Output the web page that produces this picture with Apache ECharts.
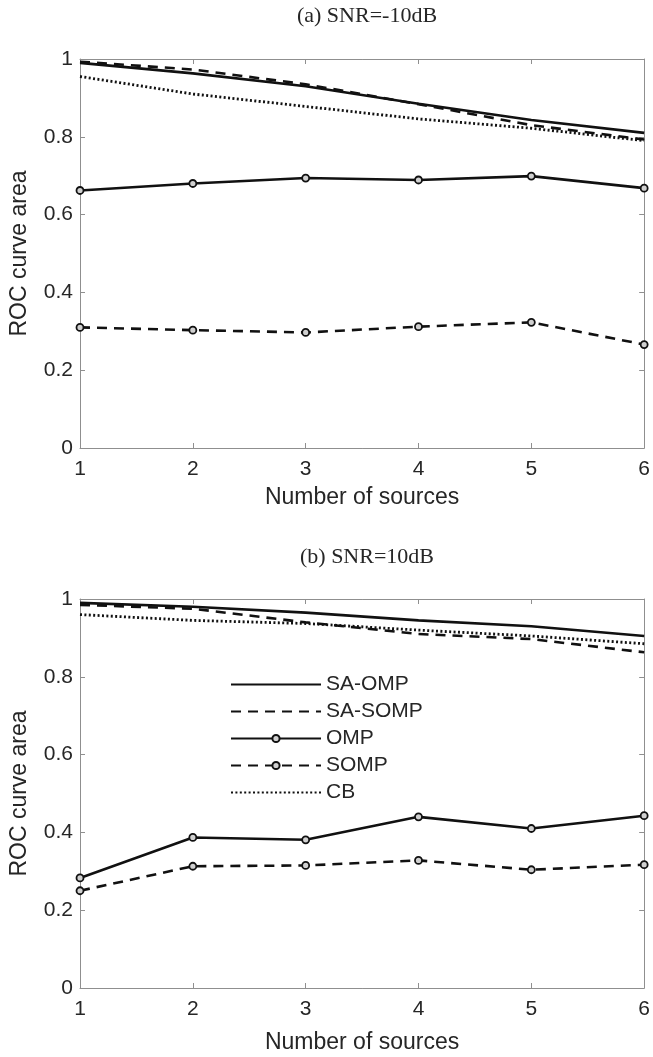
<!DOCTYPE html>
<html>
<head>
<meta charset="utf-8">
<script src="https://cdn.jsdelivr.net/npm/echarts@6/dist/echarts.min.js"></script>
<style>
html,body{margin:0;padding:0;background:#fff;}
#c{width:653px;height:1057px;}
</style>
</head>
<body>
<div id="c"></div>
<script>
// ---- data ----
const sources = [1, 2, 3, 4, 5, 6];
const seriesNames = ['SA-OMP', 'SA-SOMP', 'OMP', 'SOMP', 'CB'];
const titles = ['(a) SNR=-10dB', '(b) SNR=10dB'];
const xTitle = 'Number of sources';
const yTitle = 'ROC curve area';

// (a) SNR = -10 dB
const a_SAOMP  = [0.990, 0.963, 0.930, 0.885, 0.843, 0.810];
const a_SASOMP = [0.993, 0.973, 0.935, 0.884, 0.830, 0.793];
const a_OMP    = [0.662, 0.680, 0.694, 0.689, 0.699, 0.668];
const a_SOMP   = [0.310, 0.303, 0.297, 0.312, 0.323, 0.266];
const a_CB     = [0.955, 0.910, 0.878, 0.846, 0.822, 0.790];

// (b) SNR = 10 dB
const b_SAOMP  = [0.990, 0.980, 0.965, 0.945, 0.930, 0.905];
const b_SASOMP = [0.985, 0.975, 0.940, 0.910, 0.897, 0.863];
const b_OMP    = [0.283, 0.387, 0.381, 0.440, 0.410, 0.443];
const b_SOMP   = [0.250, 0.313, 0.315, 0.328, 0.304, 0.317];
const b_CB     = [0.960, 0.945, 0.937, 0.920, 0.905, 0.885];

const panels = [
  [a_SAOMP, a_SASOMP, a_OMP, a_SOMP, a_CB],
  [b_SAOMP, b_SASOMP, b_OMP, b_SOMP, b_CB]
];

// ---- styles ----
const LINE = '#111';
const AX = '#8f8f8f';
const TXT = '#262626';
const LW = 2.6;
const styles = [
  {type: 'solid', marker: false, w: LW},
  {type: [10, 7], marker: false, w: LW},
  {type: 'solid', marker: true, w: LW},
  {type: [10, 7], marker: true, w: LW},
  {type: [2, 2.4], marker: false, w: 2.8}
];

const gridTops = [59, 599];
const nameGaps = [38, 43];
const gridH = 389;
const grids = gridTops.map(t => ({left: 78, right: 6, top: t, height: gridH}));

const xAxes = [], yAxes = [];
grids.forEach((g, i) => {
  xAxes.push({
    type: 'value', gridIndex: i, min: 1, max: 6, interval: 1, position: 'bottom',
    name: xTitle, nameLocation: 'middle', nameGap: nameGaps[i],
    nameTextStyle: {fontFamily: 'Liberation Sans', fontSize: 23, color: TXT},
    axisLine: {show: true, lineStyle: {color: AX, width: 1}},
    axisTick: {show: true, inside: true, length: 5, lineStyle: {color: AX}},
    axisLabel: {fontFamily: 'Liberation Sans', fontSize: 21, color: TXT, margin: 11},
    splitLine: {show: false}
  });
  xAxes.push({
    type: 'value', gridIndex: i, min: 1, max: 6, interval: 1, position: 'top',
    axisLine: {show: true, onZero: false, lineStyle: {color: AX, width: 1}},
    axisTick: {show: true, inside: true, length: 5, lineStyle: {color: AX}},
    axisLabel: {show: false}, splitLine: {show: false}
  });
  yAxes.push({
    type: 'value', gridIndex: i, min: 0, max: 1, interval: 0.2, position: 'left',
    name: yTitle, nameLocation: 'middle', nameGap: 49, nameRotate: 90,
    nameTextStyle: {fontFamily: 'Liberation Sans', fontSize: 23, color: TXT},
    axisLine: {show: true, lineStyle: {color: AX, width: 1}},
    axisTick: {show: true, inside: true, length: 5, lineStyle: {color: AX}},
    axisLabel: {fontFamily: 'Liberation Sans', fontSize: 21, color: TXT, margin: 7},
    splitLine: {show: false}
  });
  yAxes.push({
    type: 'value', gridIndex: i, min: 0, max: 1, interval: 0.2, position: 'right',
    axisLine: {show: true, onZero: false, lineStyle: {color: AX, width: 1}},
    axisTick: {show: true, inside: true, length: 5, lineStyle: {color: AX}},
    axisLabel: {show: false}, splitLine: {show: false}
  });
});

const MARK = {color: '#d0d0d0', borderColor: LINE, borderWidth: 1.8};
const series = [];
panels.forEach((vals, p) => {
  vals.forEach((arr, k) => {
    const st = styles[k];
    series.push({
      name: seriesNames[k],
      type: 'line',
      xAxisIndex: p * 2,
      yAxisIndex: p * 2,
      data: sources.map((x, j) => [x, arr[j]]),
      symbol: st.marker ? 'circle' : 'none',
      symbolSize: 7,
      showSymbol: st.marker,
      itemStyle: MARK,
      lineStyle: {color: LINE, width: st.w, type: st.type},
      color: LINE,
      z: st.marker ? 3 : 2,
      animation: false
    });
  });
});

const legendData = seriesNames.map((n, k) => styles[k].marker
  ? {name: n, itemStyle: {color: '#d0d0d0', borderColor: LINE, borderWidth: 2}}
  : {name: n, itemStyle: {color: 'rgba(0,0,0,0)', borderColor: 'rgba(0,0,0,0)', borderWidth: 0, opacity: 0}});

const chart = echarts.init(document.getElementById('c'), null, {renderer: 'canvas'});
chart.setOption({
  backgroundColor: '#fff',
  animation: false,
  title: titles.map((t, i) => ({
    text: t, left: 362, top: i === 0 ? 0 : 541, textAlign: 'center',
    textStyle: {fontFamily: 'Liberation Serif', fontWeight: 'normal', fontSize: 22, color: TXT}
  })),
  legend: {
    show: true,
    data: legendData,
    orient: 'vertical',
    left: 225, top: 669,
    itemWidth: 90, itemHeight: 9, itemGap: 6,
    textStyle: {fontFamily: 'Liberation Sans', fontSize: 21, color: TXT},
    backgroundColor: 'transparent',
    selectedMode: false
  },
  grid: grids,
  xAxis: xAxes,
  yAxis: yAxes,
  series: series
});
</script>
</body>
</html>
